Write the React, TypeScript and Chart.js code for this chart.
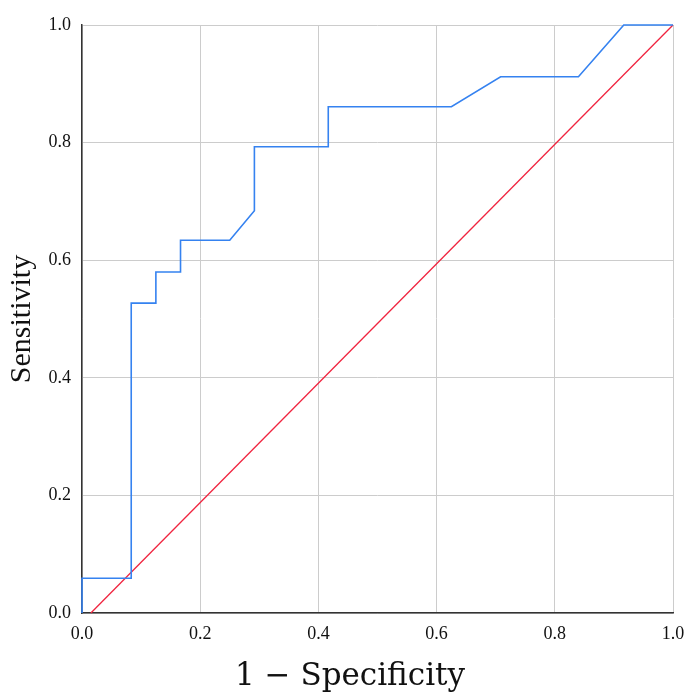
import React, { useRef, useEffect } from 'react';
import Chart from 'chart.js/auto';

// ROC curve points (1 - specificity, sensitivity)
const fpr = [0, 0, 0.0833, 0.0833, 0.125, 0.125, 0.1667, 0.1667, 0.25, 0.2917, 0.2917, 0.4167, 0.4167, 0.625, 0.7083, 0.84, 0.9167, 1.0];
const tpr = [0, 0.059, 0.059, 0.527, 0.527, 0.58, 0.58, 0.634, 0.634, 0.684, 0.793, 0.793, 0.861, 0.861, 0.912, 0.912, 1.0, 1.0];

// reference diagonal
const refX = [0.015, 1];
const refY = [0, 1];

const xTitle = '1 \u2212 Specificity';
const yTitle = 'Sensitivity';

// x title is centred on the whole canvas, not on the plot area
const xTitlePlugin = {
  id: 'xTitle',
  afterDraw(chart: any) {
    const c = chart.ctx;
    c.save();
    c.font = '31px "DejaVu Serif"';
    c.fillStyle = '#111';
    c.textAlign = 'center';
    c.textBaseline = 'alphabetic';
    c.fillText(xTitle, chart.width / 2, 685);
    c.restore();
  },
};

const App: React.FC = () => {
  const chartRef = useRef<HTMLCanvasElement | null>(null);

  useEffect(() => {
    document.body.style.margin = '0';
    if (!chartRef.current) return;
    const ctx = chartRef.current.getContext('2d');
    if (!ctx) return;

    const chart = new Chart(ctx, {
      type: 'scatter',
      data: {
        datasets: [
          {
            label: 'ROC',
            data: fpr.map((x, i) => ({ x, y: tpr[i] })),
            showLine: true,
            borderColor: '#3582f0',
            borderWidth: 1.6,
            pointRadius: 0,
            tension: 0,
            clip: false,
          },
          {
            label: 'Reference',
            data: refX.map((x, i) => ({ x, y: refY[i] })),
            showLine: true,
            borderColor: '#f0243f',
            borderWidth: 1.3,
            pointRadius: 0,
            clip: false,
          },
        ],
      },
      options: {
        animation: false,
        responsive: false,
        layout: { padding: { top: 25, right: 27, left: 0, bottom: 0 } },
        plugins: { legend: { display: false }, tooltip: { enabled: false } },
        scales: {
          x: {
            type: 'linear',
            min: 0,
            max: 1,
            afterFit: (scale: any) => { scale.height = 87; },
            ticks: {
              stepSize: 0.2,
              padding: 10,
              color: '#111',
              font: { family: 'Liberation Serif', size: 18 },
              callback: (v: any) => Number(v).toFixed(1),
            },
            grid: { color: '#cccccc', lineWidth: 1, drawTicks: false },
            border: { color: '#333333', width: 1.5 },
            title: { display: false },
          },
          y: {
            type: 'linear',
            min: 0,
            max: 1,
            afterFit: (scale: any) => { scale.width = 82; },
            ticks: {
              stepSize: 0.2,
              padding: 11,
              color: '#111',
              font: { family: 'Liberation Serif', size: 18 },
              callback: (v: any) => Number(v).toFixed(1),
            },
            grid: { color: '#cccccc', lineWidth: 1, drawTicks: false },
            border: { color: '#333333', width: 1.5 },
            title: {
              display: true,
              text: yTitle,
              color: '#111',
              font: { family: 'Liberation Serif', size: 30 },
              padding: { top: 4, bottom: 0 },
            },
          },
        },
      },
      plugins: [xTitlePlugin],
    });

    return () => {
      chart.destroy();
    };
  }, []);

  return (
    <div style={{ width: 700, height: 700, background: '#fff' }}>
      <canvas ref={chartRef} width={700} height={700}></canvas>
    </div>
  );
};

export default App;
